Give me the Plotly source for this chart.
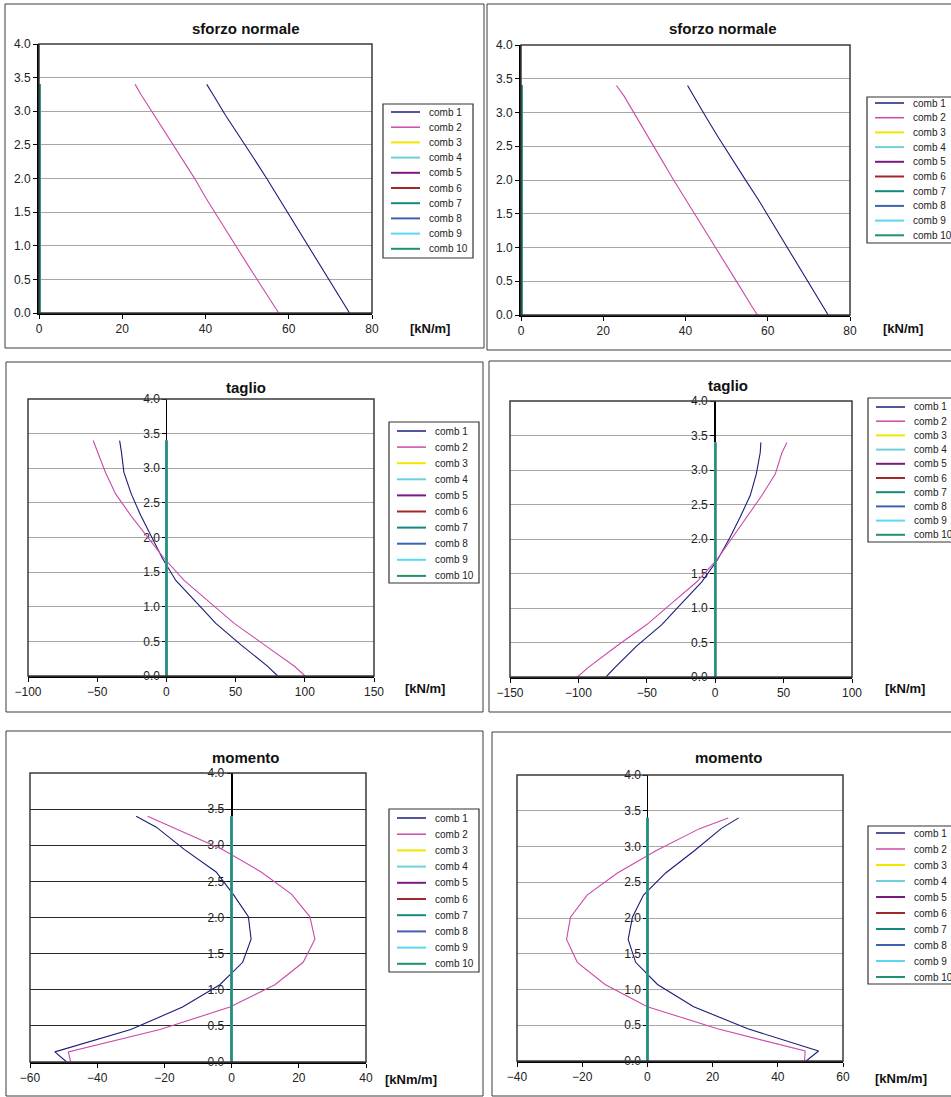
import plotly.graph_objects as go

W, H = 951, 1097

# wall height sections [m]
Y_SECT = [0.00, 0.14, 0.45, 0.76, 1.07, 1.38, 1.70, 2.01, 2.32, 2.63, 2.94, 3.25, 3.40]

# sforzo normale [kN/m]
N_L_C1 = [74.6, 73.2, 70.3, 67.2, 64.1, 61.0, 57.8, 54.6, 51.4, 48.1, 44.8, 41.8, 40.3]
N_L_C2 = [57.6, 56.1, 52.9, 49.7, 46.5, 43.3, 40.2, 37.3, 34.1, 30.9, 27.6, 24.5, 23.1]
N_R_C1 = [74.7, 73.3, 70.3, 67.3, 64.2, 61.0, 57.8, 54.5, 51.2, 48.0, 44.9, 42.0, 40.5]
N_R_C2 = [57.5, 56.0, 52.9, 49.7, 46.5, 43.4, 40.2, 37.0, 34.0, 31.0, 27.8, 25.0, 23.2]

# taglio [kN/m]
T_L_C1 = [80.4, 73.2, 53.9, 35.7, 21.3, 6.8, -2.9, -10.9, -18.6, -25.4, -30.7, -32.6, -33.8]
T_L_C2 = [100.2, 92.5, 70.8, 49.0, 30.9, 12.8, -1.7, -13.8, -25.8, -36.7, -44.0, -50.0, -52.9]
T_R_C1 = [-79.8, -73.2, -57.3, -39.0, -24.4, -9.8, 1.7, 10.5, 18.3, 25.6, 30.0, 32.9, 33.4]
T_R_C2 = [-100.7, -92.7, -72.0, -50.0, -31.7, -13.4, 1.2, 12.2, 23.2, 34.1, 43.9, 48.8, 52.4]

# momento [kNm/m]
M_L_C1 = [-49.1, -52.6, -30.0, -14.6, -3.5, 3.3, 5.8, 5.0, 0.5, -4.6, -14.0, -22.4, -28.4]
M_L_C2 = [-47.9, -48.6, -21.3, -0.5, 12.9, 21.3, 24.8, 23.3, 17.9, 8.8, -2.7, -17.5, -25.0]
M_R_C1 = [48.7, 52.5, 30.8, 14.2, 3.1, -3.6, -5.9, -4.6, -1.2, 5.6, 14.4, 22.6, 28.0]
M_R_C2 = [48.2, 48.4, 21.5, 0.0, -13.0, -21.5, -24.8, -23.6, -18.5, -9.2, 2.6, 16.0, 24.8]

# combinations 3..10 give no contribution
ZERO = [0.0, 0.0, 0.0, 0.0, 0.0, 0.0, 0.0, 0.0, 0.0, 0.0, 0.0, 0.0, 0.0]

COMB_NAMES = ["comb 1", "comb 2", "comb 3", "comb 4", "comb 5",
              "comb 6", "comb 7", "comb 8", "comb 9", "comb 10"]
COMB_COLORS = ["#1c1c7a", "#cc4aa8", "#f2e600", "#6fd0dc", "#7a1a80",
               "#a02828", "#108a80", "#3f5fb0", "#5cd6f5", "#1f9070"]

FONT = "Arial, Liberation Sans, Helvetica, sans-serif"


def fx(x):
    return x / W


def fy(y):
    return 1 - y / H


PANELS = [
    dict(series=[N_L_C1, N_L_C2], xr=(0, 80), dt=20, plot=(39, 44, 372, 313),
         title=("sforzo normale", 246, 29), unit=("[kN/m]", 430, 329),
         leg=(383, 104, 473, 258, 112, 15.2), border=(5, 4, 484, 348),
         yzero=False, grid="#a6a6a6", ylw=2, zw=3.5),
    dict(series=[N_R_C1, N_R_C2], xr=(0, 80), dt=20, plot=(521, 45, 850, 315),
         title=("sforzo normale", 723, 29), unit=("[kN/m]", 903, 329),
         leg=(867, 97, 953, 243, 103, 14.7), border=(487, 4, 953, 350),
         yzero=False, grid="#a6a6a6", ylw=2, zw=3.5),
    dict(series=[T_L_C1, T_L_C2], xr=(-100, 150), dt=50, plot=(28, 399, 374, 676),
         title=("taglio", 246, 387), unit=("[kN/m]", 425, 688),
         leg=(389, 422, 479, 583, 431, 16.1), border=(6, 362, 483, 712),
         yzero=True, grid="#a6a6a6", ylw=1, zw=2),
    dict(series=[T_R_C1, T_R_C2], xr=(-150, 100), dt=50, plot=(510, 401, 852, 677),
         title=("taglio", 728, 386), unit=("[kN/m]", 905, 688),
         leg=(868, 398, 953, 542, 407, 14.2), border=(489, 361, 953, 712),
         yzero=True, grid="#a6a6a6", ylw=2, zw=2),
    dict(series=[M_L_C1, M_L_C2], xr=(-60, 40), dt=20, plot=(30, 773, 366, 1062),
         title=("momento", 246, 757), unit=("[kNm/m]", 411, 1079),
         leg=(389, 809, 479, 972, 818, 16.2), border=(6, 731, 483, 1096),
         yzero=True, grid="#2a2a2a", ylw=2, zw=2),
    dict(series=[M_R_C1, M_R_C2], xr=(-40, 60), dt=20, plot=(517, 775, 843, 1061),
         title=("momento", 729, 757), unit=("[kNm/m]", 901, 1078),
         leg=(868, 826, 953, 984, 833, 16.0), border=(492, 732, 953, 1096),
         yzero=True, grid="#a6a6a6", ylw=1, zw=2),
]

fig = go.Figure()
shapes = []
annotations = []
layout = {}

for i, p in enumerate(PANELS, start=1):
    sfx = "" if i == 1 else str(i)
    xa, ya = "x" + sfx, "y" + sfx
    x0, y0, x1, y1 = p["plot"]
    xmin, xmax = p["xr"]

    # series: comb 1, comb 2 and the zero combinations
    all_series = p["series"] + [ZERO] * 8
    for k, vals in enumerate(all_series):
        fig.add_trace(go.Scatter(
            x=vals, y=Y_SECT, mode="lines", name=COMB_NAMES[k],
            line=dict(color=COMB_COLORS[k], width=1.1 if k < 2 else p["zw"]),
            xaxis=xa, yaxis=ya, showlegend=False, hoverinfo="skip"))

    layout["xaxis" + sfx] = dict(
        domain=[fx(x0), fx(x1)], range=[xmin, xmax], dtick=p["dt"], tick0=0,
        anchor=ya, showgrid=False, zeroline=False, automargin=False,
        showline=True, linecolor="#000000", linewidth=2,
        ticks="outside", ticklen=4, tickcolor="#000000", tickwidth=1,
        tickfont=dict(family=FONT, size=12, color="#222222"),
        fixedrange=True, layer="below traces")

    ydict = dict(
        domain=[fy(y1), fy(y0)], range=[0, 4], dtick=0.5, tick0=0,
        tickformat=".1f", showgrid=True, gridcolor=p["grid"], gridwidth=1,
        zeroline=False, showline=True, linecolor="#000000", linewidth=p["ylw"],
        automargin=False,
        ticks="outside", ticklen=4, tickcolor="#000000", tickwidth=1,
        tickfont=dict(family=FONT, size=12, color="#222222"),
        fixedrange=True, layer="below traces")
    if p["yzero"]:
        xzero = x0 + (0 - xmin) / (xmax - xmin) * (x1 - x0)
        ydict.update(anchor="free", position=fx(xzero))
    else:
        ydict.update(anchor=xa)
    layout["yaxis" + sfx] = ydict

    # plot area frame
    shapes.append(dict(type="rect", xref=xa + " domain", yref=ya + " domain",
                       x0=0, x1=1, y0=0, y1=1,
                       line=dict(color="#3a3a3a", width=1.5), layer="above"))

    # chart frame
    bx0, by0, bx1, by1 = p["border"]
    shapes.append(dict(type="rect", xref="paper", yref="paper",
                       x0=fx(bx0), x1=fx(bx1), y0=fy(by1), y1=fy(by0),
                       line=dict(color="#3c3c3c", width=1)))

    # title and unit label
    t, tx, ty = p["title"]
    annotations.append(dict(text="<b>" + t + "</b>", x=fx(tx), y=fy(ty),
                            xref="paper", yref="paper", showarrow=False,
                            xanchor="center", yanchor="middle",
                            font=dict(family=FONT, size=15, color="#111111")))
    u, ux, uy = p["unit"]
    annotations.append(dict(text="<b>" + u + "</b>", x=fx(ux), y=fy(uy),
                            xref="paper", yref="paper", showarrow=False,
                            xanchor="center", yanchor="middle",
                            font=dict(family=FONT, size=13, color="#111111")))

    # legend box
    lx0, ly0, lx1, ly1, first, step = p["leg"]
    shapes.append(dict(type="rect", xref="paper", yref="paper",
                       x0=fx(lx0), x1=fx(lx1), y0=fy(ly1), y1=fy(ly0),
                       line=dict(color="#333333", width=1.2),
                       fillcolor="#ffffff"))
    for k, name in enumerate(COMB_NAMES):
        yy = first + k * step
        shapes.append(dict(type="line", xref="paper", yref="paper",
                           x0=fx(lx0 + 8), x1=fx(lx0 + 37), y0=fy(yy), y1=fy(yy),
                           line=dict(color=COMB_COLORS[k], width=2 if k > 1 else 1.5)))
        annotations.append(dict(text=name, x=fx(lx0 + 44), y=fy(yy),
                                xref="paper", yref="paper", showarrow=False,
                                xanchor="left", yanchor="middle",
                                font=dict(family=FONT, size=10, color="#222222")))

fig.update_layout(
    width=W, height=H, autosize=False,
    margin=dict(l=0, r=0, t=0, b=0, pad=0, autoexpand=False),
    paper_bgcolor="#ffffff", plot_bgcolor="#ffffff",
    showlegend=False, shapes=shapes, annotations=annotations,
    **layout)

fig.write_html("out.html", config=dict(displayModeBar=False))
